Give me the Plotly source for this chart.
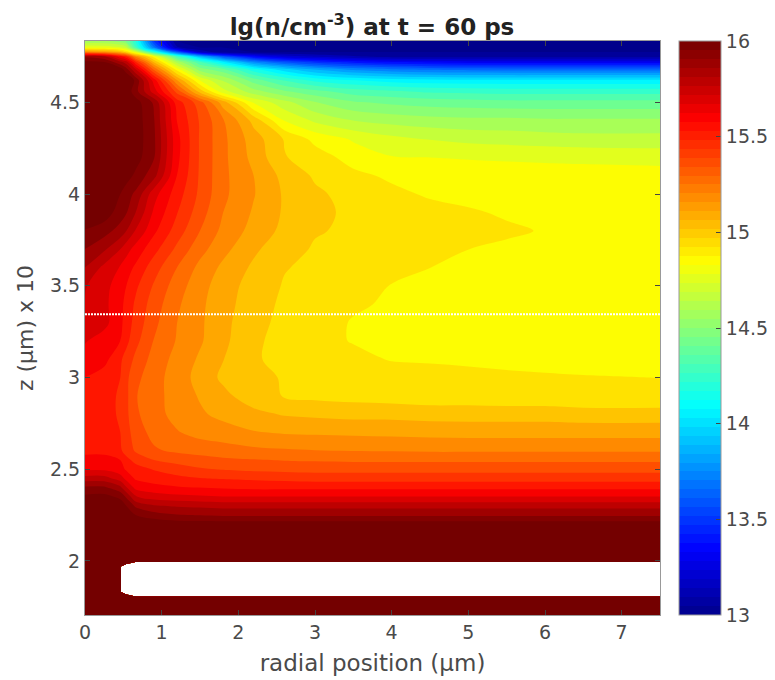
import plotly.graph_objects as go

radial = [0, .25, .46, .54, .66, .9, 1.2, 1.5, 1.8, 2.2, 2.6, 3, 3.5, 4, 4.5, 5, 5.5, 6, 6.5, 7.5]
height = [4.835, 4.80, 4.775, 4.75, 4.72, 4.68, 4.62, 4.56, 4.5, 4.4, 4.3, 4.2, 4.1, 4.0, 3.9, 3.8, 3.7, 3.6, 3.5,
          3.4, 3.3, 3.2, 3.1, 3.0, 2.9, 2.8, 2.7, 2.6, 2.55, 2.5, 2.45, 2.4, 2.35, 2.3, 2.25, 2.2, 2.15,
          1.995, 1.985, 1.97, 1.83, 1.815, 1.805, 1.705]
N = None
density = [
 [14.55,14.55,14.5,14.45,14.2,13.5,13.0,13,13,13,13,13,13,13,13,13,13,13,13,13],
 [14.78,14.77,14.72,14.66,14.3,13.7,13.1,13,13,13,13,13,13,13,13,13,13,13,13,13],
 [15.2,15.15,15.05,14.95,14.75,14.2,13.6,13.15,13.02,13,13,13,13,13,13,13,13,13,13,13],
 [15.9,15.85,15.6,15.5,15.2,14.85,14.3,13.9,13.6,13.35,13.22,13.16,13.1,13.05,13.05,13.05,13.05,13.05,13.05,13.05],
 [16.02,16.0,15.85,15.78,15.5,15.05,14.6,14.3,14.05,13.75,13.58,13.48,13.4,13.35,13.32,13.3,13.3,13.3,13.3,13.3],
 [16.2,16.15,16.05,15.95,15.75,15.3,14.85,14.5,14.4,14.15,13.98,13.85,13.75,13.7,13.67,13.66,13.65,13.65,13.65,13.65],
 [16.3,16.25,16.15,16.1,15.98,15.62,15.15,14.8,14.62,14.42,14.28,14.18,14.12,14.08,14.06,14.05,14.05,14.05,14.05,14.05],
 [16.3,16.3,16.12,16.06,15.95,15.7,15.37,15.02,14.75,14.58,14.47,14.4,14.33,14.3,14.27,14.26,14.25,14.25,14.25,14.25],
 [16.3,16.3,16.2,16.14,16.04,15.9,15.53,15.35,15.1,14.79,14.66,14.55,14.47,14.44,14.42,14.41,14.4,14.4,14.4,14.4],
 [16.3,16.3,16.15,16.1,16.05,15.92,15.57,15.39,15.24,15.03,14.8,14.7,14.63,14.6,14.58,14.57,14.57,14.56,14.56,14.56],
 [16.3,16.3,16.15,16.1,16.05,15.93,15.6,15.39,15.25,15.1,14.965,14.86,14.79,14.74,14.71,14.69,14.68,14.67,14.66,14.66],
 [16.3,16.3,16.14,16.09,16.04,15.92,15.595,15.39,15.25,15.116,14.977,14.93,14.85,14.805,14.8,14.795,14.79,14.785,14.78,14.77],
 [16.3,16.25,16.08,16.04,15.98,15.857,15.57,15.387,15.25,15.143,15.03,14.96,14.908,14.87,14.84,14.835,14.835,14.835,14.835,14.835],
 [16.3,16.15,16.0,15.95,15.897,15.69,15.526,15.38,15.248,15.148,15.046,14.986,14.943,14.907,14.875,14.86,14.85,14.85,14.85,14.85],
 [16.12,16.05,15.957,15.92,15.829,15.641,15.49,15.353,15.229,15.133,15.046,14.99,14.956,14.936,14.916,14.896,14.875,14.865,14.86,14.85],
 [15.99,15.95,15.88,15.829,15.736,15.59,15.445,15.314,15.206,15.113,15.034,14.978,14.958,14.943,14.929,14.914,14.899,14.88,14.87,14.86],
 [15.914,15.843,15.743,15.69,15.625,15.514,15.38,15.259,15.169,15.073,15.003,14.963,14.944,14.925,14.905,14.886,14.87,14.86,14.855,14.85],
 [15.829,15.72,15.65,15.61,15.556,15.438,15.314,15.204,15.125,15.042,14.976,14.954,14.931,14.909,14.886,14.875,14.865,14.86,14.855,14.85],
 [15.75,15.688,15.61,15.571,15.503,15.39,15.27,15.175,15.1,15.02,14.965,14.942,14.912,14.883,14.87,14.865,14.86,14.855,14.85,14.85],
 [15.74,15.68,15.596,15.545,15.47,15.357,15.243,15.161,15.09,15.01,14.955,14.923,14.897,14.875,14.86,14.855,14.85,14.85,14.85,14.85],
 [15.71,15.685,15.594,15.532,15.454,15.336,15.229,15.157,15.082,14.997,14.95,14.92,14.88,14.86,14.85,14.85,14.85,14.85,14.85,14.85],
 [15.665,15.615,15.571,15.51,15.426,15.31,15.222,15.154,15.078,14.985,14.946,14.917,14.88,14.86,14.85,14.85,14.85,14.85,14.85,14.85],
 [15.62,15.6,15.5,15.45,15.38,15.28,15.2,15.13,15.06,14.98,14.95,14.93,14.91,14.88,14.875,14.87,14.865,14.86,14.86,14.85],
 [15.571,15.53,15.486,15.42,15.34,15.26,15.19,15.11,15.04,14.994,14.965,14.955,14.945,14.93,14.92,14.91,14.9,14.895,14.89,14.885],
 [15.55,15.53,15.47,15.42,15.32,15.26,15.19,15.135,15.08,15.01,14.965,14.95,14.94,14.93,14.92,14.92,14.91,14.91,14.9,14.9],
 [15.55,15.53,15.47,15.42,15.33,15.26,15.2,15.155,15.12,15.08,15.05,15.04,15.03,15.03,15.02,15.02,15.02,15.02,15.01,15.01],
 [15.55,15.53,15.486,15.44,15.35,15.29,15.235,15.2,15.18,15.15,15.135,15.13,15.125,15.12,15.115,15.11,15.11,15.11,15.11,15.11],
 [15.55,15.55,15.5,15.45,15.39,15.325,15.3,15.28,15.27,15.25,15.24,15.232,15.228,15.225,15.22,15.22,15.22,15.22,15.22,15.22],
 [15.6,15.6,15.571,15.51,15.46,15.4,15.37,15.35,15.33,15.32,15.31,15.305,15.3,15.3,15.3,15.3,15.3,15.3,15.3,15.3],
 [15.64,15.64,15.6,15.56,15.52,15.48,15.44,15.41,15.395,15.38,15.375,15.37,15.37,15.37,15.37,15.37,15.37,15.37,15.37,15.37],
 [15.78,15.78,15.7,15.63,15.56,15.53,15.51,15.49,15.48,15.47,15.46,15.45,15.45,15.45,15.45,15.45,15.45,15.45,15.45,15.45],
 [15.93,15.93,15.85,15.75,15.63,15.6,15.58,15.57,15.56,15.55,15.55,15.55,15.55,15.55,15.55,15.55,15.55,15.55,15.55,15.55],
 [16.02,16.03,15.98,15.9,15.75,15.7,15.68,15.67,15.66,15.66,15.66,15.66,15.66,15.66,15.66,15.66,15.66,15.66,15.66,15.66],
 [16.1,16.1,16.05,16.0,15.9,15.84,15.82,15.81,15.8,15.8,15.8,15.8,15.8,15.8,15.8,15.8,15.8,15.8,15.8,15.8],
 [16.15,16.15,16.15,16.12,16.0,15.95,15.92,15.91,15.9,15.9,15.9,15.9,15.9,15.9,15.9,15.9,15.9,15.9,15.9,15.9],
 [16.2,16.2,16.2,16.18,16.12,16.07,16.05,16.05,16.05,16.05,16.05,16.05,16.05,16.05,16.05,16.05,16.05,16.05,16.05,16.05],
 [16.3,16.3,16.3,16.3,16.3,16.3,16.3,16.3,16.3,16.3,16.3,16.3,16.3,16.3,16.3,16.3,16.3,16.3,16.3,16.3],
 [16.3,16.3,16.3,16.3,16.3,16.3,16.3,16.3,16.3,16.3,16.3,16.3,16.3,16.3,16.3,16.3,16.3,16.3,16.3,16.3],
 [16.3,16.3,16.3,16.3,N,N,N,N,N,N,N,N,N,N,N,N,N,N,N,N],
 [16.3,16.3,16.3,N,N,N,N,N,N,N,N,N,N,N,N,N,N,N,N,N],
 [16.3,16.3,16.3,N,N,N,N,N,N,N,N,N,N,N,N,N,N,N,N,N],
 [16.3,16.3,16.3,16.3,N,N,N,N,N,N,N,N,N,N,N,N,N,N,N,N],
 [16.3,16.3,16.3,16.3,16.3,16.3,16.3,16.3,16.3,16.3,16.3,16.3,16.3,16.3,16.3,16.3,16.3,16.3,16.3,16.3],
 [16.3,16.3,16.3,16.3,16.3,16.3,16.3,16.3,16.3,16.3,16.3,16.3,16.3,16.3,16.3,16.3,16.3,16.3,16.3,16.3],
]
marker_line_r = [0, 7.5]
marker_line_z = [3.345, 3.345]
x_ticks = [0, 1, 2, 3, 4, 5, 6, 7]
y_ticks = [2, 2.5, 3, 3.5, 4, 4.5]
y_labels = ["2", "2.5", "3", "3.5", "4", "4.5"]
bar_ticks = [13, 13.5, 14, 14.5, 15, 15.5, 16]
bar_labels = ["13", "13.5", "14", "14.5", "15", "15.5", "16"]


def jet_rgb(f):
    f = f + 0.011
    r = min(1, max(0, min(4 * f - 1.5, -4 * f + 4.5)))
    g = min(1, max(0, min(4 * f - 0.5, -4 * f + 3.5)))
    b = min(1, max(0, min(4 * f + 0.5, -4 * f + 2.5)))
    return f"rgb({round(r*255)},{round(g*255)},{round(b*255)})"


jet = [[i / 128, jet_rgb(i / 128)] for i in range(129)]
stepped = []
for i in range(64):
    c = jet_rgb((i + 0.5) / 64)
    stepped += [[i / 64, c], [(i + 1) / 64, c]]

ink = "#4a4a4a"
font = "DejaVu Sans"

fig = go.Figure()
fig.add_trace(go.Contour(
    x=radial, y=height, z=density, zmin=13, zmax=16, colorscale=jet, connectgaps=False, showscale=False,
    autocontour=False, contours=dict(start=13, end=16, size=3/35, coloring="fill", showlines=False),
    line=dict(width=0, smoothing=1.0),
))
fig.add_trace(go.Scatter(x=marker_line_r, y=marker_line_z, mode="lines", showlegend=False, hoverinfo="skip",
                         line=dict(color="#ffffff", width=2, dash="2px,1px")))
fig.add_trace(go.Scatter(
    x=[None], y=[None], mode="markers", showlegend=False, hoverinfo="skip",
    marker=dict(color=[13], cmin=13, cmax=16, colorscale=stepped, showscale=True,
                colorbar=dict(x=(679-85)/575, xanchor="left", y=0.5, yanchor="middle", len=1, thickness=42,
                              thicknessmode="pixels", xpad=0, ypad=0, tickmode="array", tickvals=bar_ticks,
                              ticktext=bar_labels, ticks="inside", ticklen=5, tickcolor="#444",
                              tickfont=dict(family=font, size=19, color=ink), outlinecolor="#999", outlinewidth=1)),
))
axis = dict(showgrid=False, zeroline=False, showline=True, linecolor="#999", linewidth=1, mirror="ticks", ticks="inside",
            ticklen=5, tickcolor="#444", tickfont=dict(family=font, size=19, color=ink))
fig.update_xaxes(range=[0, 7.5], tickvals=x_ticks, ticktext=[str(t) for t in x_ticks],
                 title=dict(text="radial position (μm)", font=dict(family=font, size=23, color=ink), standoff=13), **axis)
fig.update_yaxes(range=[1.705, 4.835], tickvals=y_ticks, ticktext=y_labels,
                 title=dict(text="z (μm) x 10", font=dict(family=font, size=22, color=ink), standoff=10), **axis)
fig.update_layout(
    width=775, height=680, margin=dict(l=77, r=123, t=33, b=73, autoexpand=False),
    paper_bgcolor="white", plot_bgcolor="white", showlegend=False,
    title=dict(text="<b>lg(n/cm<sup>-3</sup>) at t = 60 ps</b>", font=dict(family=font, size=23, color="#222"),
               x=364/775, xanchor="center", y=1-19/680, yanchor="middle"),
)
fig.write_html("out.html")
